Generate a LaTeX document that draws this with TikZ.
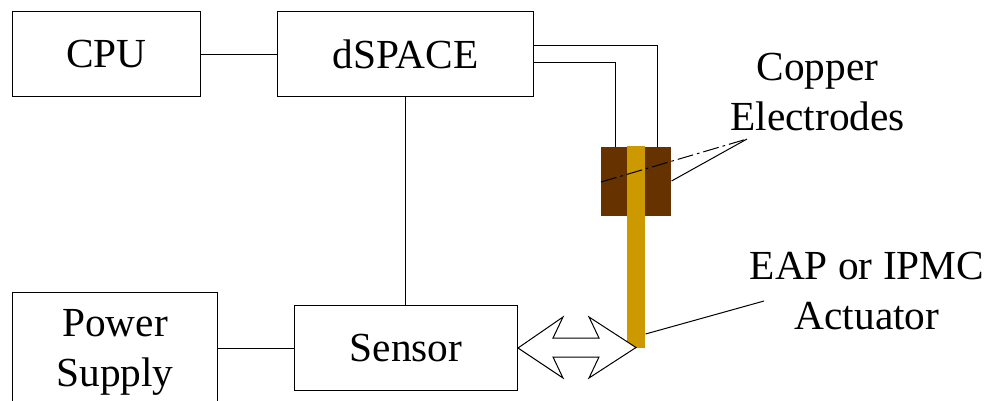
\documentclass[tikz,border=0pt]{standalone}
\usepackage{fontspec}
\setmainfont{Liberation Serif}
\definecolor{copper}{RGB}{102,51,0}
\definecolor{eap}{RGB}{204,153,0}
\tikzset{
  px/.style={x=0.75pt,y=-0.75pt},
  wire/.style={draw=black,line width=0.75pt,line join=miter},
  blockbox/.style={draw=black,line width=0.75pt,inner sep=0pt,anchor=north west,align=center,font=\fontsize{31}{37}\selectfont},
  lbl/.style={inner sep=0pt,align=center,font=\fontsize{31}{37}\selectfont}
}
\begin{document}
\begin{tikzpicture}[px]
\useasboundingbox (0,0) rectangle (987,400);
\node[blockbox,minimum width=141pt,minimum height=63.75pt] (cpu) at (12,11) {CPU};
\node[blockbox,minimum width=192pt,minimum height=63.75pt] (dspace) at (277,11) {dSPACE};
\node[blockbox,minimum width=153.75pt,minimum height=90pt] (power) at (12,292) {Power\\Supply};
\node[blockbox,minimum width=167.25pt,minimum height=63.75pt] (sensor) at (294,305) {Sensor};
\node[fill=copper,inner sep=0pt,minimum width=52.5pt,minimum height=51.75pt,anchor=north west] (elec) at (601,147) {};
\node[fill=eap,inner sep=0pt,minimum width=13.5pt,minimum height=151.5pt,anchor=north west] (act) at (627,146) {};
\draw[wire] (cpu.east) -- (cpu.east -| dspace.west);
\draw[wire] (dspace.south -| 405,0) -- (sensor.north -| 405,0);
\draw[wire] (power.east |- sensor.west) -- (sensor.west);
\coordinate (w1s) at (dspace.north east |- 0,45);
\coordinate (w2s) at (dspace.north east |- 0,62);
\draw[wire] (w1s) -| (elec.north -| 657,0);
\draw[wire] (w2s) -| (elec.north -| 615,0);
\coordinate (ce) at (747,139);
\coordinate (at) at (764,301);
\draw[wire,dash pattern=on 12pt off 3pt on 2pt off 3pt] (elec.west |- 0,182) -- (ce);
\draw[wire] (elec.east |- 0,181) -- (ce);
\draw[wire] (act.east |- 0,334) -- (at);
\draw[wire,fill=white] (sensor.east) -- (563,317) -- (553,338) -- (599,338) -- (589,317) -- (636,347.5) -- (589,378) -- (599,357) -- (553,357) -- (563,378) -- cycle;
\node[lbl] (copperlbl) at (817.5,92) {Copper\\Electrodes};
\node[lbl] (eaplbl) at (867,291) {EAP or IPMC\\Actuator};
\end{tikzpicture}
\end{document}
